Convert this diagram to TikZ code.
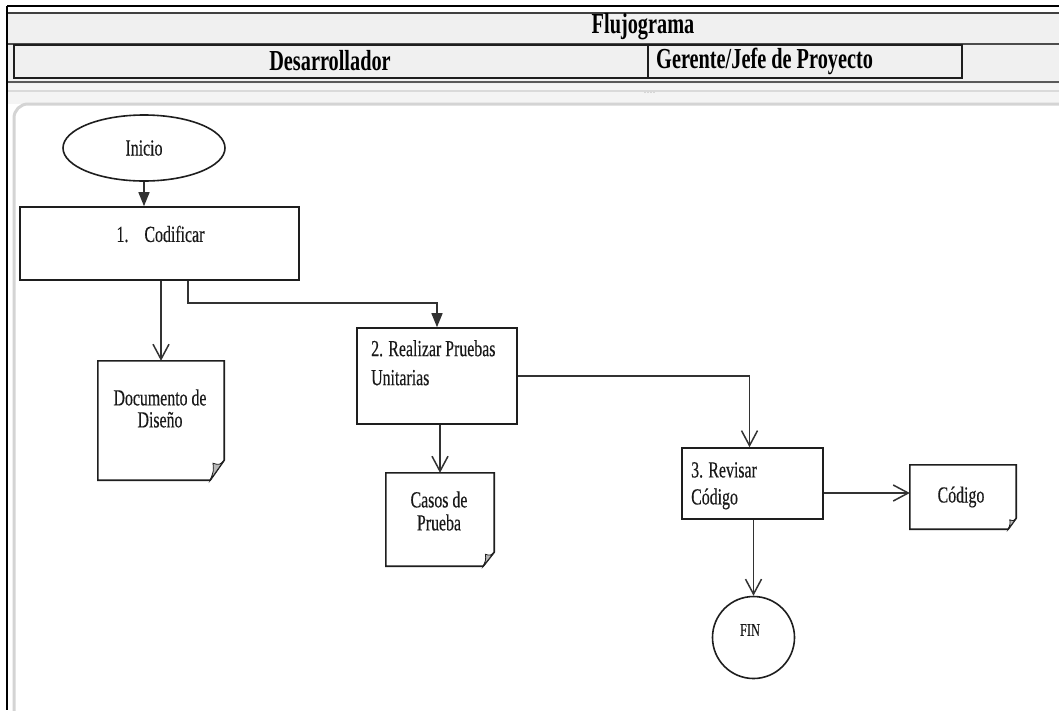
\documentclass[tikz,border=0pt]{standalone}
\usepackage{fontspec}
\setmainfont{Liberation Serif}
\newfontfamily\bodyfont[FakeStretch=0.69,FakeBold=0.3]{Liberation Serif}
\newfontfamily\headfont[FakeStretch=0.7]{Liberation Serif}
\usetikzlibrary{arrows.meta,shapes.geometric,calc}

\definecolor{hdrbg}{RGB}{240,240,240}
\definecolor{bandbg}{RGB}{244,244,244}
\definecolor{bandline}{RGB}{218,218,218}
\definecolor{panelline}{RGB}{212,212,212}
\definecolor{inkline}{RGB}{30,30,30}
\definecolor{connline}{RGB}{50,50,50}

\tikzset{
  boxline/.style={draw=inkline, line width=1.6pt},
  conn/.style={draw=connline, line width=1.5pt},
  solidtip/.style={conn, -{Triangle[length=14pt,width=11pt]}},
  opentip/.style={conn, -{Straight Barb[length=15pt,width=16pt]}},
  txt/.style={inner sep=0pt, font=\bodyfont\fontsize{23}{23}\selectfont, text=black!90},
  proc/.style={boxline, rectangle, inner sep=0pt, fill=white},
  docbox/.style={rectangle, inner sep=0pt, draw=none},
  hdr/.style={inner sep=0pt, font=\headfont\bfseries\fontsize{29}{29}\selectfont},
  foldfill/.style={fill=gray!55, draw=inkline, line width=0.8pt},
}

% document symbol: box with the lower right corner folded over
\newcommand\docshape[3]{%
  \draw[boxline, fill=white] (#1.north west) -- (#1.north east)
    -- ($(#1.south east)+(0,-#3)$) -- ($(#1.south east)+(-#2,0)$)
    -- (#1.south west) -- cycle;
  \filldraw[foldfill] ($(#1.south east)+(0,-#3)$)
    .. controls ($(#1.south east)+(-0.35*#2,-0.75*#3)$) .. ($(#1.south east)+(-0.8*#2,-0.85*#3)$)
    .. controls ($(#1.south east)+(-0.75*#2,-0.45*#3)$) .. ($(#1.south east)+(-#2,0)$) -- cycle;
}

\begin{document}
\begin{tikzpicture}[x=1pt,y=-1pt]
\useasboundingbox (0,0) rectangle (1059,710);
\fill[white] (0,0) rectangle (1059,710);

% ---- title table ----
\fill[hdrbg] (8,12) rectangle (1059,84);
\draw[black, line width=1.5pt] (7,6) -- (1059,6);
\draw[black!75, line width=2pt] (8,12.5) -- (1059,12.5);
\draw[black!70, line width=2pt] (8,43.5) -- (1059,43.5);
\draw[boxline] (14,45) rectangle (648,78);
\draw[boxline] (648,45) rectangle (962,78);
\draw[black!65, line width=2pt] (8,82) -- (1059,82);

\node[hdr] (title) at (643,27) {Flujograma};
\node[hdr] (lane1) at (330,61) {Desarrollador};
\node[hdr, anchor=west] (lane2) at (656,61) {Gerente/Jefe de Proyecto};

% ---- splitter band and drawing panel ----
\fill[bandbg] (8,84) rectangle (1059,104);
\draw[bandline, line width=2pt] (8,91) -- (1059,91);
\foreach \i in {0,...,3} {
  \fill[gray!55] (645+\i*3,92.5) circle (0.7pt);
}
\draw[panelline, line width=3pt, rounded corners=14pt, fill=white] (14,104) rectangle (1080,730);
\draw[black, line width=1.5pt] (7,6) -- (7,710);

% ---- flow nodes ----
\node[ellipse, boxline, fill=white, minimum width=162pt, minimum height=66pt, inner sep=0pt,
      txt] (ini) at (144,148) {Inicio};

\node[proc, minimum width=279pt, minimum height=73pt] (codi) at (159.5,243.5) {};
\node[txt] (codi-t) at (160.5,234) {1.\hspace{16pt}Codificar};

\node[docbox, minimum width=126pt, minimum height=119pt] (doc1) at (161,420.5) {};
\docshape{doc1}{14}{20}
\node[txt, align=center, font=\bodyfont\fontsize{23}{22}\selectfont] (doc1-t) at (160,408.5) {Documento de\\Diseño};

\node[proc, minimum width=160pt, minimum height=96pt] (real) at (437,376) {};
\node[txt, align=left, anchor=north west, font=\bodyfont\fontsize{23}{29}\selectfont] (real-t) at (371,340) {2. Realizar Pruebas\\Unitarias};

\node[docbox, minimum width=108pt, minimum height=93pt] (casos) at (440,519.5) {};
\docshape{casos}{11}{14}
\node[txt, align=center, font=\bodyfont\fontsize{23}{23}\selectfont] (casos-t) at (439,511) {Casos de\\Prueba};

\node[proc, minimum width=141pt, minimum height=71pt] (rev) at (752.5,483.5) {};
\node[txt, align=left, anchor=north west, font=\bodyfont\fontsize{23}{27}\selectfont] (rev-t) at (691,462) {3. Revisar\\Código};

\node[docbox, minimum width=106pt, minimum height=64pt] (cod) at (963,497) {};
\docshape{cod}{8}{11}
\node[txt] (cod-t) at (961,497) {Código};

\node[circle, boxline, fill=white, minimum size=82pt, inner sep=0pt] (fin) at (753.5,637.5) {};
\node[txt, font=\bodyfont\fontsize{18}{18}\selectfont] (fin-t) at (750,630) {FIN};

% ---- connectors ----
\draw[solidtip] (ini.south) -- (ini.south |- codi.north);
\draw[opentip] (doc1.north |- codi.south) -- (doc1.north);
\coordinate (split) at (188,303);
\draw[solidtip] (split |- codi.south) -- (split) -| (real.north);
\draw[opentip] (casos.north |- real.south) -- (casos.north);
\draw[opentip] (real.east) -| ([xshift=-3pt]rev.north);
\draw[opentip] ([yshift=-9.5pt]rev.east) -- ([yshift=4pt]cod.west);
\draw[opentip] (fin.north |- rev.south) -- (fin.north);
\end{tikzpicture}
\end{document}
